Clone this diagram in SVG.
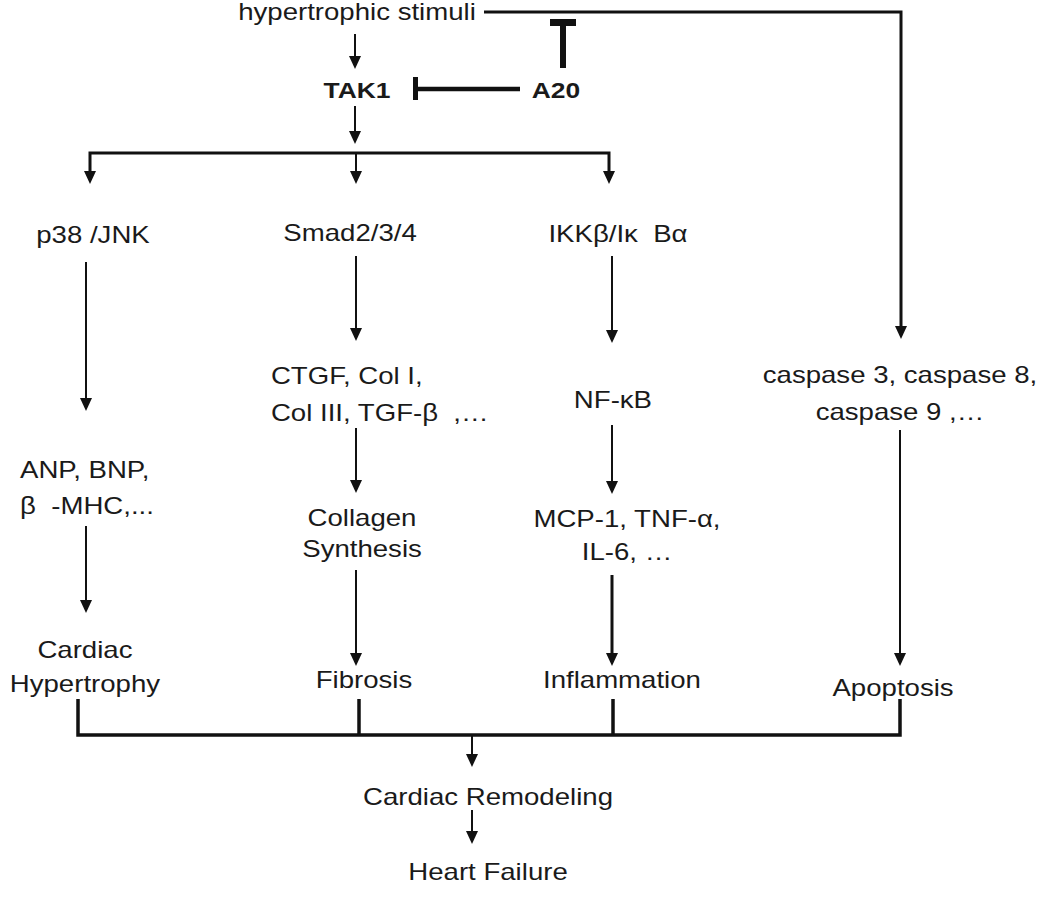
<svg xmlns="http://www.w3.org/2000/svg" width="1050" height="902" viewBox="0 0 1050 902">
<style>
.t{font-family:"Liberation Sans",Arial,sans-serif;font-size:23px;fill:#1a1a1a;text-anchor:middle;white-space:pre}
.s{text-anchor:start}
.b{font-weight:bold;font-size:22px}
.ln{stroke:#111;stroke-width:2;fill:none}
.hv{stroke:#111;stroke-width:3.5;fill:none}
</style>
<rect width="1050" height="902" fill="#fff"/>
<g id="connectors">
<path class="hv" style="stroke-width:3" d="M484,12 H901 V326"/>
<path d="M895,326 H907 L901,339 Z" fill="#111"/>
<line x1="563" y1="68" x2="563" y2="24" stroke="#111" stroke-width="6"/>
<line x1="550" y1="22.5" x2="576" y2="22.5" stroke="#111" stroke-width="7"/>
<line x1="418" y1="89" x2="520" y2="89" stroke="#111" stroke-width="4.5"/>
<line x1="415.5" y1="77" x2="415.5" y2="100" stroke="#111" stroke-width="5"/>
<line class="ln" x1="355" y1="34" x2="355" y2="56"/>
<path d="M349,56 H361 L355,69 Z" fill="#111"/>
<line class="ln" x1="355" y1="106" x2="355" y2="131"/>
<path d="M349,131 H361 L355,144 Z" fill="#111"/>
<path class="hv" style="stroke-width:3" d="M90,171 V153 H609 V171"/>
<line class="ln" x1="356" y1="153" x2="356" y2="171"/>
<path d="M84,171 H96 L90,184 Z M350,171 H362 L356,184 Z M603,171 H615 L609,184 Z" fill="#111"/>
<line class="ln" x1="86" y1="262" x2="86" y2="398"/>
<path d="M80,398 H92 L86,411 Z" fill="#111"/>
<line class="ln" x1="86" y1="526" x2="86" y2="600"/>
<path d="M80,600 H92 L86,613 Z" fill="#111"/>
<line class="ln" x1="356" y1="256" x2="356" y2="328"/>
<path d="M350,328 H362 L356,341 Z" fill="#111"/>
<line class="ln" x1="356" y1="428" x2="356" y2="480"/>
<path d="M350,480 H362 L356,493 Z" fill="#111"/>
<line class="ln" x1="356" y1="570" x2="356" y2="653"/>
<path d="M350,653 H362 L356,666 Z" fill="#111"/>
<line class="ln" x1="612" y1="256" x2="612" y2="330"/>
<path d="M606,330 H618 L612,343 Z" fill="#111"/>
<line class="ln" x1="612" y1="425" x2="612" y2="481"/>
<path d="M606,481 H618 L612,494 Z" fill="#111"/>
<line class="ln" style="stroke-width:3" x1="612" y1="575" x2="612" y2="653"/>
<path d="M606,653 H618 L612,666 Z" fill="#111"/>
<line class="ln" x1="900" y1="430" x2="900" y2="653"/>
<path d="M894,653 H906 L900,666 Z" fill="#111"/>
<path class="hv" d="M78,699 V735 H900 V699"/>
<line class="hv" x1="359" y1="699" x2="359" y2="735"/>
<line class="hv" x1="613" y1="699" x2="613" y2="735"/>
<line class="ln" x1="472" y1="735" x2="472" y2="754"/>
<path d="M466,754 H478 L472,767 Z" fill="#111"/>
<line class="ln" x1="472" y1="810" x2="472" y2="831"/>
<path d="M466,831 H478 L472,844 Z" fill="#111"/>
</g>
<g id="n-stimuli"><text class="t" transform="scale(1.2 1)" x="297.5" y="20">hypertrophic stimuli</text></g>
<g id="n-tak1"><text class="t b" transform="scale(1.2 1)" x="297.5" y="98">TAK1</text></g>
<g id="n-a20"><text class="t b" transform="scale(1.2 1)" x="463.3" y="98">A20</text></g>
<g id="n-p38"><text class="t" transform="scale(1.2 1)" x="77.5" y="243">p38 /JNK</text></g>
<g id="n-smad"><text class="t" transform="scale(1.2 1)" x="291.7" y="241">Smad2/3/4</text></g>
<g id="n-ikk"><text class="t" transform="scale(1.2 1)" x="515" y="242">IKKβ/Iκ  Bα</text></g>
<g id="n-ctgf"><text class="t s" transform="scale(1.2 1)" x="225.8" y="384">CTGF, Col I,</text><text class="t s" transform="scale(1.2 1)" x="225.8" y="421">Col III, TGF-β  ,…</text></g>
<g id="n-nfkb"><text class="t" transform="scale(1.2 1)" x="510.8" y="408">NF-κB</text></g>
<g id="n-caspase"><text class="t" transform="scale(1.2 1)" x="750" y="383">caspase 3, caspase 8,</text><text class="t" transform="scale(1.2 1)" x="750" y="420">caspase 9 ,…</text></g>
<g id="n-anp"><text class="t s" transform="scale(1.2 1)" x="16.7" y="478">ANP, BNP,</text><text class="t s" transform="scale(1.2 1)" x="16.7" y="514">β  -MHC,...</text></g>
<g id="n-collagen"><text class="t" transform="scale(1.2 1)" x="301.7" y="526">Collagen</text><text class="t" transform="scale(1.2 1)" x="301.7" y="557">Synthesis</text></g>
<g id="n-mcp"><text class="t" transform="scale(1.2 1)" x="522.5" y="527">MCP-1, TNF-α,</text><text class="t" transform="scale(1.2 1)" x="522.5" y="560">IL-6, …</text></g>
<g id="n-hypertrophy"><text class="t" transform="scale(1.2 1)" x="70.8" y="658">Cardiac</text><text class="t" transform="scale(1.2 1)" x="70.8" y="692">Hypertrophy</text></g>
<g id="n-fibrosis"><text class="t" transform="scale(1.2 1)" x="303.3" y="688">Fibrosis</text></g>
<g id="n-inflammation"><text class="t" transform="scale(1.2 1)" x="518.3" y="688">Inflammation</text></g>
<g id="n-apoptosis"><text class="t" transform="scale(1.2 1)" x="744.2" y="696">Apoptosis</text></g>
<g id="n-remodeling"><text class="t" transform="scale(1.2 1)" x="406.7" y="805">Cardiac Remodeling</text></g>
<g id="n-hf"><text class="t" transform="scale(1.2 1)" x="406.7" y="880">Heart Failure</text></g>
</svg>
